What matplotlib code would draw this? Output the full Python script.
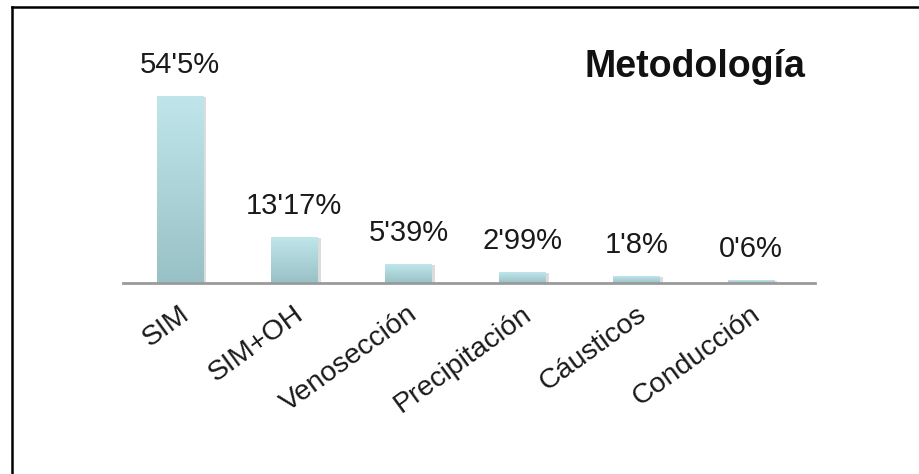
import numpy as np
import matplotlib
matplotlib.use("Agg")
from matplotlib import pyplot as plt
from matplotlib.colors import LinearSegmentedColormap
from matplotlib.lines import Line2D

categories = ["SIM", "SIM+OH", "Venosección", "Precipitación", "Cáusticos", "Conducción"]
values = [54.5, 13.17, 5.39, 2.99, 1.8, 0.6]
value_labels = ["54'5%", "13'17%", "5'39%", "2'99%", "1'8%", "0'6%"]
title = "Metodología"

plt.rcParams['font.family'] = ['Liberation Sans', 'DejaVu Sans']

fig = plt.figure(figsize=(9.2, 4.74), dpi=100)
ax = fig.add_axes([0.1337, 0.403, 0.752, 0.44])

bar_w = 0.41
grad = LinearSegmentedColormap.from_list("bar", ["#98c1c6", "#c0e6eb"])
ramp = np.linspace(0, 1, 256).reshape(-1, 1)
for i, v in enumerate(values):
    # soft shadow to the right
    ax.bar(i + 0.025, v, width=bar_w, color="#dcdcdc", zorder=1)
    ax.imshow(ramp, cmap=grad, origin="lower", aspect="auto", zorder=2,
              extent=(i - bar_w / 2, i + bar_w / 2, 0, v))
    ax.text(i, v + 7.0, value_labels[i], ha="center", va="baseline",
            fontsize=21, color="#1a1a1a")

ax.set_xlim(-0.5, 5.56)
ax.set_ylim(0, 61)
ax.axhline(0, color="#9a9a9a", lw=2, zorder=3, clip_on=False)
for s in ax.spines.values():
    s.set_visible(False)
ax.set_yticks([])
ax.set_xticks(np.arange(len(categories)) - 0.01)
ax.set_xticklabels(categories, rotation=36, ha="right", rotation_mode="anchor",
                   fontsize=20.5, color="#1a1a1a")
ax.tick_params(axis="x", length=0, pad=13)

fig.text(0.875, 1 - 77 / 474, title, ha="right", va="baseline", fontsize=27,
         fontweight="bold", color="#111111")

# frame lines (top and left only)
fig.add_artist(Line2D([12 / 920, 12 / 920], [0, 1 - 7 / 474], color="black", lw=1.8))
fig.add_artist(Line2D([12 / 920, 1], [1 - 7 / 474, 1 - 7 / 474], color="black", lw=1.8))

fig.savefig("out.png", dpi=100)
